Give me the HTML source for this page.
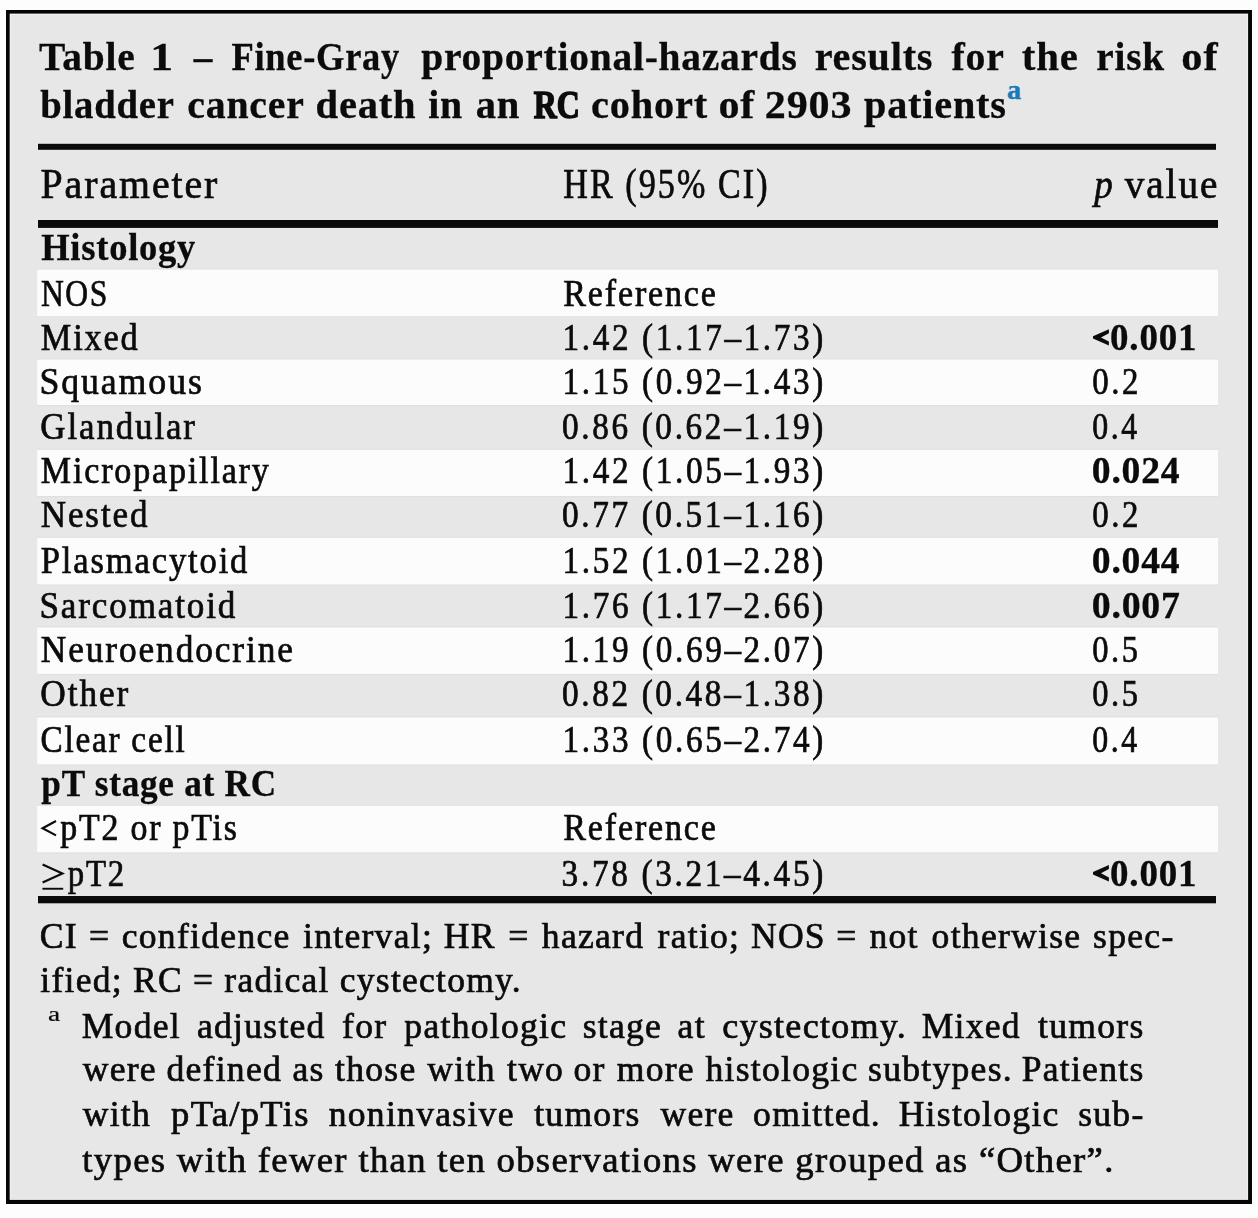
<!DOCTYPE html>
<html><head><meta charset="utf-8"><title>Table 1</title>
<style>
html,body{margin:0;padding:0;background:#fdfdfd;}
svg{display:block;font-family:"Liberation Serif",serif;}
#main{filter:grayscale(1);}
#ov{position:absolute;left:0;top:0;}
</style></head><body>
<svg id="main" width="1258" height="1218" viewBox="0 0 1258 1218">
<rect x="0" y="0" width="1258" height="1218" fill="#fdfdfd"/>
<rect x="6" y="10" width="1246" height="1194" fill="#050505"/>
<rect x="9.7" y="13.6" width="1238.4" height="1186.3" fill="#f0f0ee"/>
<rect x="11" y="15" width="1236" height="1184" fill="#e7e7e7"/>
<rect x="37.2" y="268.40000000000003" width="1180.8" height="1.2" fill="#dfdfdf"/>
<rect x="37.2" y="316.2" width="1180.8" height="1.2" fill="#e0e0e0"/>
<rect x="37.2" y="269.6" width="1180.8" height="46.6" fill="#fbfcfd"/>
<rect x="37.2" y="358.40000000000003" width="1180.8" height="1.2" fill="#dfdfdf"/>
<rect x="37.2" y="405.0" width="1180.8" height="1.2" fill="#e0e0e0"/>
<rect x="37.2" y="359.6" width="1180.8" height="45.4" fill="#fbfcfd"/>
<rect x="37.2" y="448.7" width="1180.8" height="1.2" fill="#dfdfdf"/>
<rect x="37.2" y="496.0" width="1180.8" height="1.2" fill="#e0e0e0"/>
<rect x="37.2" y="449.9" width="1180.8" height="46.1" fill="#fbfcfd"/>
<rect x="37.2" y="536.5999999999999" width="1180.8" height="1.2" fill="#dfdfdf"/>
<rect x="37.2" y="584.4" width="1180.8" height="1.2" fill="#e0e0e0"/>
<rect x="37.2" y="537.8" width="1180.8" height="46.6" fill="#fbfcfd"/>
<rect x="37.2" y="626.3" width="1180.8" height="1.2" fill="#dfdfdf"/>
<rect x="37.2" y="673.9" width="1180.8" height="1.2" fill="#e0e0e0"/>
<rect x="37.2" y="627.5" width="1180.8" height="46.4" fill="#fbfcfd"/>
<rect x="37.2" y="716.3" width="1180.8" height="1.2" fill="#dfdfdf"/>
<rect x="37.2" y="764.4" width="1180.8" height="1.2" fill="#e0e0e0"/>
<rect x="37.2" y="717.5" width="1180.8" height="46.9" fill="#fbfcfd"/>
<rect x="37.2" y="804.5999999999999" width="1180.8" height="1.2" fill="#dfdfdf"/>
<rect x="37.2" y="852.3" width="1180.8" height="1.2" fill="#e0e0e0"/>
<rect x="37.2" y="805.8" width="1180.8" height="46.5" fill="#fbfcfd"/>
<rect x="38" y="143.8" width="1178" height="6.0" fill="#0b0b0b"/>
<rect x="38" y="220.0" width="1180" height="7.9" fill="#0b0b0b"/>
<rect x="38" y="896.0" width="1178" height="7.3" fill="#0b0b0b"/>
<polygon points="1108.9,329.20 1093.0,336.20 1093.0,338.60 1108.9,345.60 1108.9,341.60 1101.0,337.40 1108.9,333.20" fill="#0b0b0b"/>
<polyline points="56.0,821.00 42.6,828.30 56.0,835.40" fill="none" stroke="#0b0b0b" stroke-width="2.2" stroke-linejoin="miter"/>
<polyline points="42.6,864.40 62.4,873.40 42.6,882.50" fill="none" stroke="#0b0b0b" stroke-width="2.2" stroke-linejoin="miter"/>
<rect x="42.4" y="887.80" width="20.8" height="1.9" fill="#0b0b0b"/>
<polygon points="1108.9,865.10 1093.0,872.10 1093.0,874.50 1108.9,881.50 1108.9,877.50 1101.0,873.30 1108.9,869.10" fill="#0b0b0b"/>
<text x="38.91" y="69.80" font-size="40.6" font-weight="bold" font-style="normal" fill="#0b0b0b" stroke="#0b0b0b" stroke-width="0.3" letter-spacing="0.8" textLength="96.63" lengthAdjust="spacingAndGlyphs">Table</text>
<text x="150.35" y="69.80" font-size="40.6" font-weight="bold" font-style="normal" fill="#0b0b0b" stroke="#0b0b0b" stroke-width="0.3" letter-spacing="0.8" textLength="23.72" lengthAdjust="spacingAndGlyphs">1</text>
<text x="193.75" y="69.80" font-size="40.6" font-weight="bold" font-style="normal" fill="#0b0b0b" stroke="#0b0b0b" stroke-width="0.3" letter-spacing="0.8" textLength="19.32" lengthAdjust="spacingAndGlyphs">–</text>
<text x="231.38" y="69.80" font-size="40.6" font-weight="bold" font-style="normal" fill="#0b0b0b" stroke="#0b0b0b" stroke-width="0.3" letter-spacing="0.8" textLength="168.70" lengthAdjust="spacingAndGlyphs">Fine-Gray</text>
<text x="421.20" y="69.80" font-size="40.6" font-weight="bold" font-style="normal" fill="#0b0b0b" stroke="#0b0b0b" stroke-width="0.3" letter-spacing="0.8" textLength="376.54" lengthAdjust="spacingAndGlyphs">proportional-hazards</text>
<text x="814.73" y="69.80" font-size="40.6" font-weight="bold" font-style="normal" fill="#0b0b0b" stroke="#0b0b0b" stroke-width="0.3" letter-spacing="0.8" textLength="118.53" lengthAdjust="spacingAndGlyphs">results</text>
<text x="951.51" y="69.80" font-size="40.6" font-weight="bold" font-style="normal" fill="#0b0b0b" stroke="#0b0b0b" stroke-width="0.3" letter-spacing="0.8" textLength="53.13" lengthAdjust="spacingAndGlyphs">for</text>
<text x="1021.84" y="69.80" font-size="40.6" font-weight="bold" font-style="normal" fill="#0b0b0b" stroke="#0b0b0b" stroke-width="0.3" letter-spacing="0.8" textLength="56.82" lengthAdjust="spacingAndGlyphs">the</text>
<text x="1096.35" y="69.80" font-size="40.6" font-weight="bold" font-style="normal" fill="#0b0b0b" stroke="#0b0b0b" stroke-width="0.3" letter-spacing="0.8" textLength="68.48" lengthAdjust="spacingAndGlyphs">risk</text>
<text x="1181.38" y="69.80" font-size="40.6" font-weight="bold" font-style="normal" fill="#0b0b0b" stroke="#0b0b0b" stroke-width="0.3" letter-spacing="0.8" textLength="37.04" lengthAdjust="spacingAndGlyphs">of</text>
<text x="40.21" y="117.80" font-size="40.6" font-weight="bold" font-style="normal" fill="#0b0b0b" stroke="#0b0b0b" stroke-width="0.3" letter-spacing="0.8" textLength="134.39" lengthAdjust="spacingAndGlyphs">bladder</text>
<text x="187.34" y="117.80" font-size="40.6" font-weight="bold" font-style="normal" fill="#0b0b0b" stroke="#0b0b0b" stroke-width="0.3" letter-spacing="0.8" textLength="117.30" lengthAdjust="spacingAndGlyphs">cancer</text>
<text x="315.56" y="117.80" font-size="40.6" font-weight="bold" font-style="normal" fill="#0b0b0b" stroke="#0b0b0b" stroke-width="0.3" letter-spacing="0.8" textLength="100.86" lengthAdjust="spacingAndGlyphs">death</text>
<text x="428.13" y="117.80" font-size="40.6" font-weight="bold" font-style="normal" fill="#0b0b0b" stroke="#0b0b0b" stroke-width="0.3" letter-spacing="0.8" textLength="34.76" lengthAdjust="spacingAndGlyphs">in</text>
<text x="475.69" y="117.80" font-size="40.6" font-weight="bold" font-style="normal" fill="#0b0b0b" stroke="#0b0b0b" stroke-width="0.3" letter-spacing="0.8" textLength="44.53" lengthAdjust="spacingAndGlyphs">an</text>
<text x="533.76" y="117.80" font-size="40.6" font-weight="bold" font-style="normal" fill="#0b0b0b" stroke="#0b0b0b" stroke-width="1.6" textLength="45.97" lengthAdjust="spacingAndGlyphs">RC</text>
<text x="591.02" y="117.80" font-size="40.6" font-weight="bold" font-style="normal" fill="#0b0b0b" stroke="#0b0b0b" stroke-width="0.3" letter-spacing="0.8" textLength="116.95" lengthAdjust="spacingAndGlyphs">cohort</text>
<text x="718.40" y="117.80" font-size="40.6" font-weight="bold" font-style="normal" fill="#0b0b0b" stroke="#0b0b0b" stroke-width="0.3" letter-spacing="0.8" textLength="36.72" lengthAdjust="spacingAndGlyphs">of</text>
<text x="764.83" y="117.80" font-size="40.6" font-weight="bold" font-style="normal" fill="#0b0b0b" stroke="#0b0b0b" stroke-width="0.3" letter-spacing="0.8" textLength="87.43" lengthAdjust="spacingAndGlyphs">2903</text>
<text x="863.99" y="117.80" font-size="40.6" font-weight="bold" font-style="normal" fill="#0b0b0b" stroke="#0b0b0b" stroke-width="0.3" letter-spacing="0.8" textLength="142.79" lengthAdjust="spacingAndGlyphs">patients</text>
<text x="40.55" y="197.60" font-size="41.2" font-weight="normal" font-style="normal" fill="#0b0b0b" stroke="#0b0b0b" stroke-width="0.7" letter-spacing="2.0" textLength="178.73" lengthAdjust="spacingAndGlyphs">Parameter</text>
<text x="563.22" y="197.60" font-size="41.2" font-weight="normal" font-style="normal" fill="#0b0b0b" stroke="#0b0b0b" stroke-width="0.7" letter-spacing="2.5" textLength="206.35" lengthAdjust="spacingAndGlyphs">HR (95% CI)</text>
<text x="1094.17" y="197.60" font-size="41.2" font-weight="normal" font-style="italic" fill="#0b0b0b" stroke="#0b0b0b" stroke-width="0.7" textLength="18.55" lengthAdjust="spacingAndGlyphs">p</text>
<text x="1124.70" y="197.60" font-size="41.2" font-weight="normal" font-style="normal" fill="#0b0b0b" stroke="#0b0b0b" stroke-width="0.7" letter-spacing="2.0" textLength="94.57" lengthAdjust="spacingAndGlyphs">value</text>
<text x="41.18" y="259.80" font-size="37.5" font-weight="bold" font-style="normal" fill="#0b0b0b" stroke="#0b0b0b" stroke-width="0.3" letter-spacing="0.8" textLength="154.96" lengthAdjust="spacingAndGlyphs">Histology</text>
<text x="40.89" y="305.70" font-size="37.5" font-weight="normal" font-style="normal" fill="#0b0b0b" stroke="#0b0b0b" stroke-width="0.7" letter-spacing="2.0" textLength="68.25" lengthAdjust="spacingAndGlyphs">NOS</text>
<text x="563.32" y="305.70" font-size="37.5" font-weight="normal" font-style="normal" fill="#0b0b0b" stroke="#0b0b0b" stroke-width="0.7" letter-spacing="2.0" textLength="154.38" lengthAdjust="spacingAndGlyphs">Reference</text>
<text x="40.81" y="349.60" font-size="37.5" font-weight="normal" font-style="normal" fill="#0b0b0b" stroke="#0b0b0b" stroke-width="0.7" letter-spacing="2.0" textLength="98.84" lengthAdjust="spacingAndGlyphs">Mixed</text>
<text x="562.59" y="349.60" font-size="37.5" font-weight="normal" font-style="normal" fill="#0b0b0b" stroke="#0b0b0b" stroke-width="0.7" letter-spacing="3" textLength="263.32" lengthAdjust="spacingAndGlyphs">1.42 (1.17–1.73)</text>
<text x="1110.09" y="349.60" font-size="37.5" font-weight="bold" font-style="normal" fill="#0b0b0b" stroke="#0b0b0b" stroke-width="0.3" letter-spacing="0.8" textLength="87.11" lengthAdjust="spacingAndGlyphs">0.001</text>
<text x="39.41" y="393.60" font-size="37.5" font-weight="normal" font-style="normal" fill="#0b0b0b" stroke="#0b0b0b" stroke-width="0.7" letter-spacing="2.0" textLength="164.40" lengthAdjust="spacingAndGlyphs">Squamous</text>
<text x="562.59" y="393.60" font-size="37.5" font-weight="normal" font-style="normal" fill="#0b0b0b" stroke="#0b0b0b" stroke-width="0.7" letter-spacing="3" textLength="263.32" lengthAdjust="spacingAndGlyphs">1.15 (0.92–1.43)</text>
<text x="1092.25" y="393.60" font-size="37.5" font-weight="normal" font-style="normal" fill="#0b0b0b" stroke="#0b0b0b" stroke-width="0.7" letter-spacing="3" textLength="48.88" lengthAdjust="spacingAndGlyphs">0.2</text>
<text x="40.37" y="439.30" font-size="37.5" font-weight="normal" font-style="normal" fill="#0b0b0b" stroke="#0b0b0b" stroke-width="0.7" letter-spacing="2.0" textLength="156.50" lengthAdjust="spacingAndGlyphs">Glandular</text>
<text x="561.93" y="439.30" font-size="37.5" font-weight="normal" font-style="normal" fill="#0b0b0b" stroke="#0b0b0b" stroke-width="0.7" letter-spacing="3" textLength="263.98" lengthAdjust="spacingAndGlyphs">0.86 (0.62–1.19)</text>
<text x="1092.29" y="439.30" font-size="37.5" font-weight="normal" font-style="normal" fill="#0b0b0b" stroke="#0b0b0b" stroke-width="0.7" letter-spacing="3" textLength="47.46" lengthAdjust="spacingAndGlyphs">0.4</text>
<text x="40.82" y="483.40" font-size="37.5" font-weight="normal" font-style="normal" fill="#0b0b0b" stroke="#0b0b0b" stroke-width="0.7" letter-spacing="2.0" textLength="229.83" lengthAdjust="spacingAndGlyphs">Micropapillary</text>
<text x="562.59" y="483.40" font-size="37.5" font-weight="normal" font-style="normal" fill="#0b0b0b" stroke="#0b0b0b" stroke-width="0.7" letter-spacing="3" textLength="263.32" lengthAdjust="spacingAndGlyphs">1.42 (1.05–1.93)</text>
<text x="1091.77" y="483.40" font-size="37.5" font-weight="bold" font-style="normal" fill="#0b0b0b" stroke="#0b0b0b" stroke-width="0.3" letter-spacing="0.8" textLength="88.74" lengthAdjust="spacingAndGlyphs">0.024</text>
<text x="40.79" y="527.40" font-size="37.5" font-weight="normal" font-style="normal" fill="#0b0b0b" stroke="#0b0b0b" stroke-width="0.7" letter-spacing="2.0" textLength="108.51" lengthAdjust="spacingAndGlyphs">Nested</text>
<text x="561.93" y="527.40" font-size="37.5" font-weight="normal" font-style="normal" fill="#0b0b0b" stroke="#0b0b0b" stroke-width="0.7" letter-spacing="3" textLength="263.98" lengthAdjust="spacingAndGlyphs">0.77 (0.51–1.16)</text>
<text x="1092.25" y="527.40" font-size="37.5" font-weight="normal" font-style="normal" fill="#0b0b0b" stroke="#0b0b0b" stroke-width="0.7" letter-spacing="3" textLength="48.88" lengthAdjust="spacingAndGlyphs">0.2</text>
<text x="40.80" y="573.30" font-size="37.5" font-weight="normal" font-style="normal" fill="#0b0b0b" stroke="#0b0b0b" stroke-width="0.7" letter-spacing="2.0" textLength="208.46" lengthAdjust="spacingAndGlyphs">Plasmacytoid</text>
<text x="562.59" y="573.30" font-size="37.5" font-weight="normal" font-style="normal" fill="#0b0b0b" stroke="#0b0b0b" stroke-width="0.7" letter-spacing="3" textLength="263.32" lengthAdjust="spacingAndGlyphs">1.52 (1.01–2.28)</text>
<text x="1091.77" y="573.30" font-size="37.5" font-weight="bold" font-style="normal" fill="#0b0b0b" stroke="#0b0b0b" stroke-width="0.3" letter-spacing="0.8" textLength="88.74" lengthAdjust="spacingAndGlyphs">0.044</text>
<text x="39.45" y="617.60" font-size="37.5" font-weight="normal" font-style="normal" fill="#0b0b0b" stroke="#0b0b0b" stroke-width="0.7" letter-spacing="2.0" textLength="197.84" lengthAdjust="spacingAndGlyphs">Sarcomatoid</text>
<text x="562.59" y="617.60" font-size="37.5" font-weight="normal" font-style="normal" fill="#0b0b0b" stroke="#0b0b0b" stroke-width="0.7" letter-spacing="3" textLength="263.32" lengthAdjust="spacingAndGlyphs">1.76 (1.17–2.66)</text>
<text x="1091.76" y="617.60" font-size="37.5" font-weight="bold" font-style="normal" fill="#0b0b0b" stroke="#0b0b0b" stroke-width="0.3" letter-spacing="0.8" textLength="88.96" lengthAdjust="spacingAndGlyphs">0.007</text>
<text x="40.78" y="661.60" font-size="37.5" font-weight="normal" font-style="normal" fill="#0b0b0b" stroke="#0b0b0b" stroke-width="0.7" letter-spacing="2.0" textLength="254.03" lengthAdjust="spacingAndGlyphs">Neuroendocrine</text>
<text x="562.59" y="661.60" font-size="37.5" font-weight="normal" font-style="normal" fill="#0b0b0b" stroke="#0b0b0b" stroke-width="0.7" letter-spacing="3" textLength="263.32" lengthAdjust="spacingAndGlyphs">1.19 (0.69–2.07)</text>
<text x="1092.27" y="661.60" font-size="37.5" font-weight="normal" font-style="normal" fill="#0b0b0b" stroke="#0b0b0b" stroke-width="0.7" letter-spacing="3" textLength="48.29" lengthAdjust="spacingAndGlyphs">0.5</text>
<text x="40.35" y="705.70" font-size="37.5" font-weight="normal" font-style="normal" fill="#0b0b0b" stroke="#0b0b0b" stroke-width="0.7" letter-spacing="2.0" textLength="89.74" lengthAdjust="spacingAndGlyphs">Other</text>
<text x="561.93" y="705.70" font-size="37.5" font-weight="normal" font-style="normal" fill="#0b0b0b" stroke="#0b0b0b" stroke-width="0.7" letter-spacing="3" textLength="263.98" lengthAdjust="spacingAndGlyphs">0.82 (0.48–1.38)</text>
<text x="1092.27" y="705.70" font-size="37.5" font-weight="normal" font-style="normal" fill="#0b0b0b" stroke="#0b0b0b" stroke-width="0.7" letter-spacing="3" textLength="48.29" lengthAdjust="spacingAndGlyphs">0.5</text>
<text x="40.44" y="751.50" font-size="37.5" font-weight="normal" font-style="normal" fill="#0b0b0b" stroke="#0b0b0b" stroke-width="0.7" letter-spacing="2.0" textLength="146.00" lengthAdjust="spacingAndGlyphs">Clear cell</text>
<text x="562.59" y="751.50" font-size="37.5" font-weight="normal" font-style="normal" fill="#0b0b0b" stroke="#0b0b0b" stroke-width="0.7" letter-spacing="3" textLength="263.32" lengthAdjust="spacingAndGlyphs">1.33 (0.65–2.74)</text>
<text x="1092.29" y="751.50" font-size="37.5" font-weight="normal" font-style="normal" fill="#0b0b0b" stroke="#0b0b0b" stroke-width="0.7" letter-spacing="3" textLength="47.46" lengthAdjust="spacingAndGlyphs">0.4</text>
<text x="41.35" y="795.80" font-size="37.5" font-weight="bold" font-style="normal" fill="#0b0b0b" stroke="#0b0b0b" stroke-width="0.3" letter-spacing="0.8" textLength="235.57" lengthAdjust="spacingAndGlyphs">pT stage at RC</text>
<text x="60.26" y="839.50" font-size="37.5" font-weight="normal" font-style="normal" fill="#0b0b0b" stroke="#0b0b0b" stroke-width="0.7" letter-spacing="2.0" textLength="178.55" lengthAdjust="spacingAndGlyphs">pT2 or pTis</text>
<text x="563.32" y="839.50" font-size="37.5" font-weight="normal" font-style="normal" fill="#0b0b0b" stroke="#0b0b0b" stroke-width="0.7" letter-spacing="2.0" textLength="154.38" lengthAdjust="spacingAndGlyphs">Reference</text>
<text x="67.87" y="885.50" font-size="37.5" font-weight="normal" font-style="normal" fill="#0b0b0b" stroke="#0b0b0b" stroke-width="0.7" letter-spacing="2.0" textLength="58.09" lengthAdjust="spacingAndGlyphs">pT2</text>
<text x="561.61" y="885.50" font-size="37.5" font-weight="normal" font-style="normal" fill="#0b0b0b" stroke="#0b0b0b" stroke-width="0.7" letter-spacing="3" textLength="264.31" lengthAdjust="spacingAndGlyphs">3.78 (3.21–4.45)</text>
<text x="1110.09" y="885.50" font-size="37.5" font-weight="bold" font-style="normal" fill="#0b0b0b" stroke="#0b0b0b" stroke-width="0.3" letter-spacing="0.8" textLength="87.11" lengthAdjust="spacingAndGlyphs">0.001</text>
<text x="82.34" y="1171.60" font-size="36.2" font-weight="normal" font-style="normal" fill="#0b0b0b" stroke="#0b0b0b" stroke-width="0.7" letter-spacing="1.3" textLength="1032.39" lengthAdjust="spacingAndGlyphs">types with fewer than ten observations were grouped as “Other”.</text>
<text x="40.36" y="991.60" font-size="36.2" font-weight="normal" font-style="normal" fill="#0b0b0b" stroke="#0b0b0b" stroke-width="0.7" letter-spacing="1.3" textLength="481.53" lengthAdjust="spacingAndGlyphs">ified; RC = radical cystectomy.</text>
<text x="39.64" y="947.50" font-size="36.2" font-weight="normal" font-style="normal" fill="#0b0b0b" stroke="#0b0b0b" stroke-width="0.7" letter-spacing="1.3" textLength="38.14" lengthAdjust="spacingAndGlyphs">CI</text>
<text x="89.12" y="947.50" font-size="36.2" font-weight="normal" font-style="normal" fill="#0b0b0b" stroke="#0b0b0b" stroke-width="0.7" letter-spacing="1.3" textLength="21.35" lengthAdjust="spacingAndGlyphs">=</text>
<text x="121.74" y="947.50" font-size="36.2" font-weight="normal" font-style="normal" fill="#0b0b0b" stroke="#0b0b0b" stroke-width="0.7" letter-spacing="1.3" textLength="168.86" lengthAdjust="spacingAndGlyphs">confidence</text>
<text x="302.99" y="947.50" font-size="36.2" font-weight="normal" font-style="normal" fill="#0b0b0b" stroke="#0b0b0b" stroke-width="0.7" letter-spacing="1.3" textLength="130.07" lengthAdjust="spacingAndGlyphs">interval;</text>
<text x="443.67" y="947.50" font-size="36.2" font-weight="normal" font-style="normal" fill="#0b0b0b" stroke="#0b0b0b" stroke-width="0.7" letter-spacing="1.3" textLength="51.99" lengthAdjust="spacingAndGlyphs">HR</text>
<text x="508.20" y="947.50" font-size="36.2" font-weight="normal" font-style="normal" fill="#0b0b0b" stroke="#0b0b0b" stroke-width="0.7" letter-spacing="1.3" textLength="21.35" lengthAdjust="spacingAndGlyphs">=</text>
<text x="541.83" y="947.50" font-size="36.2" font-weight="normal" font-style="normal" fill="#0b0b0b" stroke="#0b0b0b" stroke-width="0.7" letter-spacing="1.3" textLength="102.48" lengthAdjust="spacingAndGlyphs">hazard</text>
<text x="657.53" y="947.50" font-size="36.2" font-weight="normal" font-style="normal" fill="#0b0b0b" stroke="#0b0b0b" stroke-width="0.7" letter-spacing="1.3" textLength="82.76" lengthAdjust="spacingAndGlyphs">ratio;</text>
<text x="750.91" y="947.50" font-size="36.2" font-weight="normal" font-style="normal" fill="#0b0b0b" stroke="#0b0b0b" stroke-width="0.7" letter-spacing="1.3" textLength="75.02" lengthAdjust="spacingAndGlyphs">NOS</text>
<text x="836.32" y="947.50" font-size="36.2" font-weight="normal" font-style="normal" fill="#0b0b0b" stroke="#0b0b0b" stroke-width="0.7" letter-spacing="1.3" textLength="21.35" lengthAdjust="spacingAndGlyphs">=</text>
<text x="869.47" y="947.50" font-size="36.2" font-weight="normal" font-style="normal" fill="#0b0b0b" stroke="#0b0b0b" stroke-width="0.7" letter-spacing="1.3" textLength="49.30" lengthAdjust="spacingAndGlyphs">not</text>
<text x="931.58" y="947.50" font-size="36.2" font-weight="normal" font-style="normal" fill="#0b0b0b" stroke="#0b0b0b" stroke-width="0.7" letter-spacing="1.3" textLength="149.84" lengthAdjust="spacingAndGlyphs">otherwise</text>
<text x="1093.10" y="947.50" font-size="36.2" font-weight="normal" font-style="normal" fill="#0b0b0b" stroke="#0b0b0b" stroke-width="0.7" letter-spacing="1.3" textLength="81.47" lengthAdjust="spacingAndGlyphs">spec-</text>
<text x="48.04" y="1021.30" font-size="20" font-weight="normal" font-style="normal" fill="#0b0b0b" stroke="#0b0b0b" stroke-width="0.2" textLength="12.13" lengthAdjust="spacingAndGlyphs">a</text>
<text x="81.67" y="1037.60" font-size="36.2" font-weight="normal" font-style="normal" fill="#0b0b0b" stroke="#0b0b0b" stroke-width="0.7" letter-spacing="1.3" textLength="99.29" lengthAdjust="spacingAndGlyphs">Model</text>
<text x="196.89" y="1037.60" font-size="36.2" font-weight="normal" font-style="normal" fill="#0b0b0b" stroke="#0b0b0b" stroke-width="0.7" letter-spacing="1.3" textLength="128.81" lengthAdjust="spacingAndGlyphs">adjusted</text>
<text x="342.05" y="1037.60" font-size="36.2" font-weight="normal" font-style="normal" fill="#0b0b0b" stroke="#0b0b0b" stroke-width="0.7" letter-spacing="1.3" textLength="45.33" lengthAdjust="spacingAndGlyphs">for</text>
<text x="404.37" y="1037.60" font-size="36.2" font-weight="normal" font-style="normal" fill="#0b0b0b" stroke="#0b0b0b" stroke-width="0.7" letter-spacing="1.3" textLength="162.99" lengthAdjust="spacingAndGlyphs">pathologic</text>
<text x="582.68" y="1037.60" font-size="36.2" font-weight="normal" font-style="normal" fill="#0b0b0b" stroke="#0b0b0b" stroke-width="0.7" letter-spacing="1.3" textLength="79.50" lengthAdjust="spacingAndGlyphs">stage</text>
<text x="677.58" y="1037.60" font-size="36.2" font-weight="normal" font-style="normal" fill="#0b0b0b" stroke="#0b0b0b" stroke-width="0.7" letter-spacing="1.3" textLength="28.24" lengthAdjust="spacingAndGlyphs">at</text>
<text x="722.14" y="1037.60" font-size="36.2" font-weight="normal" font-style="normal" fill="#0b0b0b" stroke="#0b0b0b" stroke-width="0.7" letter-spacing="1.3" textLength="185.01" lengthAdjust="spacingAndGlyphs">cystectomy.</text>
<text x="921.66" y="1037.60" font-size="36.2" font-weight="normal" font-style="normal" fill="#0b0b0b" stroke="#0b0b0b" stroke-width="0.7" letter-spacing="1.3" textLength="99.29" lengthAdjust="spacingAndGlyphs">Mixed</text>
<text x="1038.05" y="1037.60" font-size="36.2" font-weight="normal" font-style="normal" fill="#0b0b0b" stroke="#0b0b0b" stroke-width="0.7" letter-spacing="1.3" textLength="106.51" lengthAdjust="spacingAndGlyphs">tumors</text>
<text x="82.67" y="1081.20" font-size="36.2" font-weight="normal" font-style="normal" fill="#0b0b0b" stroke="#0b0b0b" stroke-width="0.7" letter-spacing="1.3" textLength="74.25" lengthAdjust="spacingAndGlyphs">were</text>
<text x="166.44" y="1081.20" font-size="36.2" font-weight="normal" font-style="normal" fill="#0b0b0b" stroke="#0b0b0b" stroke-width="0.7" letter-spacing="1.3" textLength="115.65" lengthAdjust="spacingAndGlyphs">defined</text>
<text x="292.46" y="1081.20" font-size="36.2" font-weight="normal" font-style="normal" fill="#0b0b0b" stroke="#0b0b0b" stroke-width="0.7" letter-spacing="1.3" textLength="32.20" lengthAdjust="spacingAndGlyphs">as</text>
<text x="335.07" y="1081.20" font-size="36.2" font-weight="normal" font-style="normal" fill="#0b0b0b" stroke="#0b0b0b" stroke-width="0.7" letter-spacing="1.3" textLength="81.50" lengthAdjust="spacingAndGlyphs">those</text>
<text x="427.36" y="1081.20" font-size="36.2" font-weight="normal" font-style="normal" fill="#0b0b0b" stroke="#0b0b0b" stroke-width="0.7" letter-spacing="1.3" textLength="68.37" lengthAdjust="spacingAndGlyphs">with</text>
<text x="506.97" y="1081.20" font-size="36.2" font-weight="normal" font-style="normal" fill="#0b0b0b" stroke="#0b0b0b" stroke-width="0.7" letter-spacing="1.3" textLength="57.21" lengthAdjust="spacingAndGlyphs">two</text>
<text x="573.52" y="1081.20" font-size="36.2" font-weight="normal" font-style="normal" fill="#0b0b0b" stroke="#0b0b0b" stroke-width="0.7" letter-spacing="1.3" textLength="32.20" lengthAdjust="spacingAndGlyphs">or</text>
<text x="616.71" y="1081.20" font-size="36.2" font-weight="normal" font-style="normal" fill="#0b0b0b" stroke="#0b0b0b" stroke-width="0.7" letter-spacing="1.3" textLength="78.23" lengthAdjust="spacingAndGlyphs">more</text>
<text x="705.41" y="1081.20" font-size="36.2" font-weight="normal" font-style="normal" fill="#0b0b0b" stroke="#0b0b0b" stroke-width="0.7" letter-spacing="1.3" textLength="153.13" lengthAdjust="spacingAndGlyphs">histologic</text>
<text x="868.04" y="1081.20" font-size="36.2" font-weight="normal" font-style="normal" fill="#0b0b0b" stroke="#0b0b0b" stroke-width="0.7" letter-spacing="1.3" textLength="144.94" lengthAdjust="spacingAndGlyphs">subtypes.</text>
<text x="1021.66" y="1081.20" font-size="36.2" font-weight="normal" font-style="normal" fill="#0b0b0b" stroke="#0b0b0b" stroke-width="0.7" letter-spacing="1.3" textLength="122.90" lengthAdjust="spacingAndGlyphs">Patients</text>
<text x="82.67" y="1125.80" font-size="36.2" font-weight="normal" font-style="normal" fill="#0b0b0b" stroke="#0b0b0b" stroke-width="0.7" letter-spacing="1.3" textLength="68.37" lengthAdjust="spacingAndGlyphs">with</text>
<text x="171.05" y="1125.80" font-size="36.2" font-weight="normal" font-style="normal" fill="#0b0b0b" stroke="#0b0b0b" stroke-width="0.7" letter-spacing="1.3" textLength="138.69" lengthAdjust="spacingAndGlyphs">pTa/pTis</text>
<text x="328.69" y="1125.80" font-size="36.2" font-weight="normal" font-style="normal" fill="#0b0b0b" stroke="#0b0b0b" stroke-width="0.7" letter-spacing="1.3" textLength="186.02" lengthAdjust="spacingAndGlyphs">noninvasive</text>
<text x="534.17" y="1125.80" font-size="36.2" font-weight="normal" font-style="normal" fill="#0b0b0b" stroke="#0b0b0b" stroke-width="0.7" letter-spacing="1.3" textLength="106.51" lengthAdjust="spacingAndGlyphs">tumors</text>
<text x="660.41" y="1125.80" font-size="36.2" font-weight="normal" font-style="normal" fill="#0b0b0b" stroke="#0b0b0b" stroke-width="0.7" letter-spacing="1.3" textLength="74.25" lengthAdjust="spacingAndGlyphs">were</text>
<text x="753.12" y="1125.80" font-size="36.2" font-weight="normal" font-style="normal" fill="#0b0b0b" stroke="#0b0b0b" stroke-width="0.7" letter-spacing="1.3" textLength="127.84" lengthAdjust="spacingAndGlyphs">omitted.</text>
<text x="898.63" y="1125.80" font-size="36.2" font-weight="normal" font-style="normal" fill="#0b0b0b" stroke="#0b0b0b" stroke-width="0.7" letter-spacing="1.3" textLength="161.04" lengthAdjust="spacingAndGlyphs">Histologic</text>
<text x="1078.17" y="1125.80" font-size="36.2" font-weight="normal" font-style="normal" fill="#0b0b0b" stroke="#0b0b0b" stroke-width="0.7" letter-spacing="1.3" textLength="66.39" lengthAdjust="spacingAndGlyphs">sub-</text>
</svg>
<svg id="ov" width="1258" height="1218" viewBox="0 0 1258 1218">
<text x="1007.09" y="98.80" font-size="28" font-weight="bold" font-style="normal" fill="#1b79ba" stroke="#1b79ba" stroke-width="0.4" textLength="14.14" lengthAdjust="spacingAndGlyphs">a</text>
</svg>
</body></html>
